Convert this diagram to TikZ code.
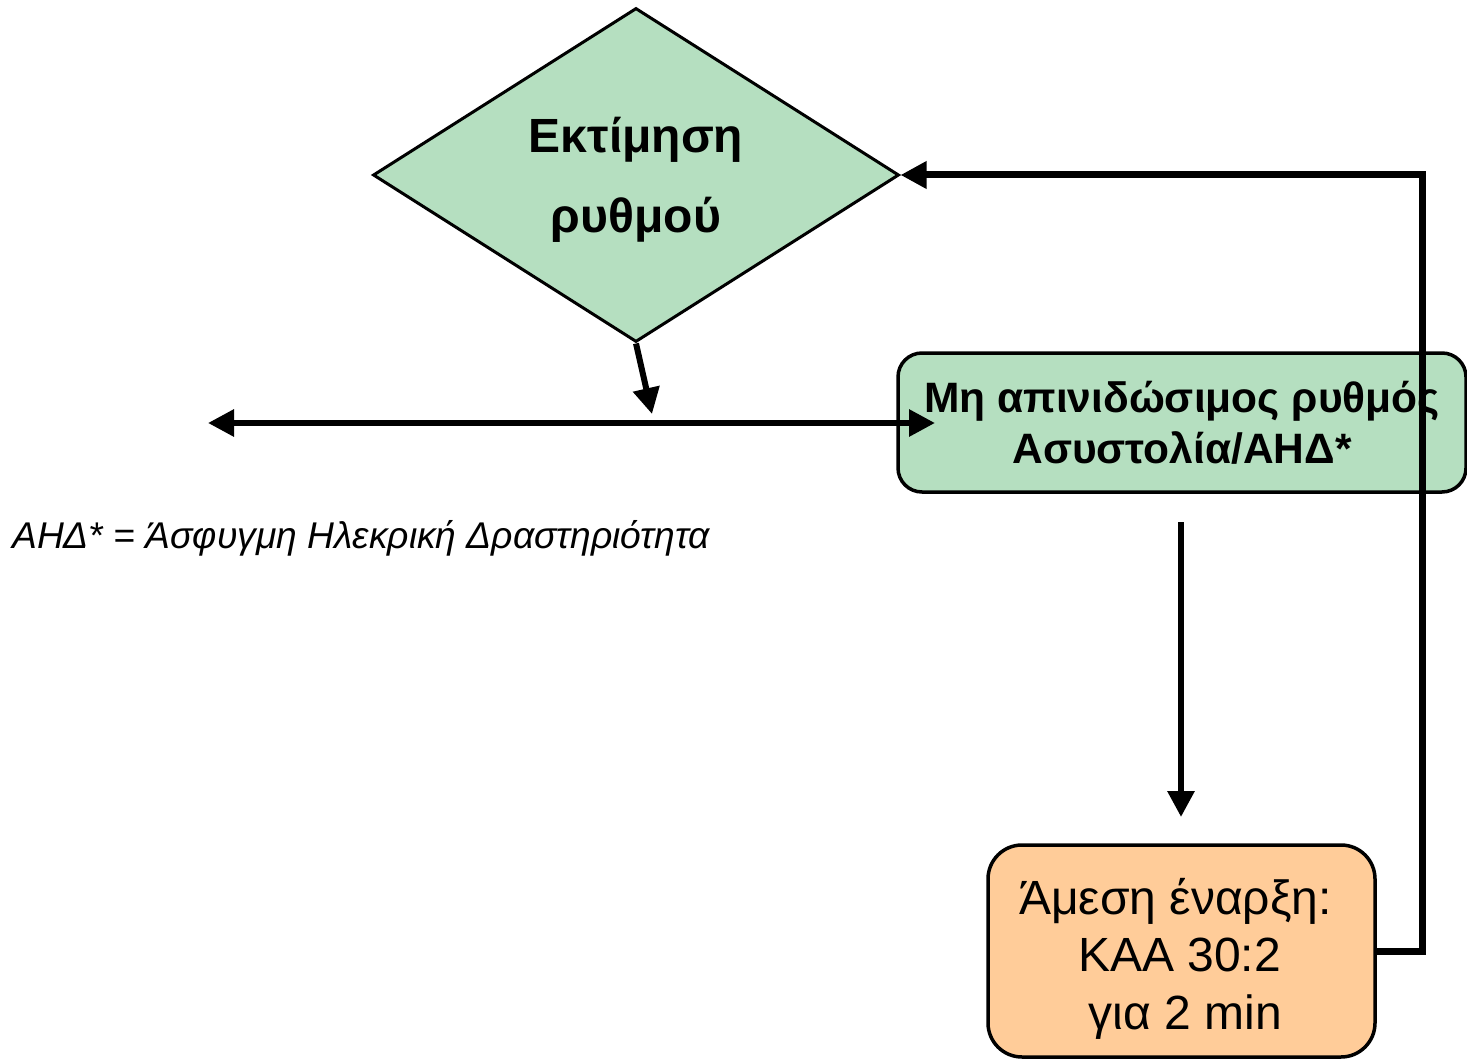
\documentclass[tikz,border=0pt]{standalone}
\usepackage{fontspec}
\setmainfont{Liberation Sans}
\usetikzlibrary{shapes.geometric,arrows.meta}
\definecolor{mygreen}{HTML}{B5DFC0}
\definecolor{myorange}{HTML}{FFCC99}
\tikzset{
  arr/.style={line width=6pt,-{Triangle[length=26pt,width=26pt]}},
  darr/.style={line width=6pt,{Triangle[length=26pt,width=26pt]}-{Triangle[length=26pt,width=26pt]}},
  greenbox/.style={draw,line width=3.5pt,fill=mygreen,rounded corners=24pt,align=center,font=\fontsize{42.5}{51}\selectfont\bfseries},
  orangebox/.style={draw,line width=3.5pt,fill=myorange,rounded corners=34pt,align=center,font=\fontsize{48}{57.5}\selectfont},
}
\begin{document}
\begin{tikzpicture}[x=1pt,y=-1pt]
\useasboundingbox (0,0) rectangle (1467,1059);
\node[diamond,draw,line width=3pt,fill=mygreen,inner sep=0pt,minimum width=526pt,minimum height=334pt,aspect=1.575,align=center,font=\fontsize{48}{80}\selectfont\bfseries] (d) at (636,175) {\raisebox{-2pt}[\height][\depth]{\begin{tabular}{@{}c@{}}Εκτίμηση\\ρυθμού\end{tabular}}};
\node[greenbox,minimum width=568pt,minimum height=139pt,inner sep=0pt] (g) at (1182,422.5) {Μη απινιδώσιμος ρυθμός\\Ασυστολία/ΑΗΔ*};
\node[orangebox,minimum width=387pt,minimum height=212pt,inner sep=0pt] (o) at (1181.5,951) {\raisebox{-9pt}[\height][\depth]{\begin{tabular}{@{}c@{}}Άμεση έναρξη:\kern12pt\\ΚΑΑ 30:2\kern4pt\\\kern8pt για 2 min\end{tabular}}};
\node[anchor=base west,inner sep=0pt,font=\fontsize{37.2}{40}\selectfont\itshape] (fn) at (12,548) {ΑΗΔ* = Άσφυγμη Ηλεκρική Δραστηριότητα};
\coordinate (hL) at (208,423);
\coordinate (hR) at (935,423);
\coordinate (dArr) at (652,414);
\coordinate (vA) at (1181,522);
\coordinate (vB) at (1181,817);
\coordinate (fbR) at (1422,951);
\draw[darr] (hL) -- (hR);
\draw[arr] (d.south) -- (dArr);
\draw[arr] (vA) -- (vB);
\draw[line width=7pt,-{Triangle[length=26pt,width=26pt]}] (o.east) -- (fbR) |- (d.east);
\end{tikzpicture}
\end{document}
